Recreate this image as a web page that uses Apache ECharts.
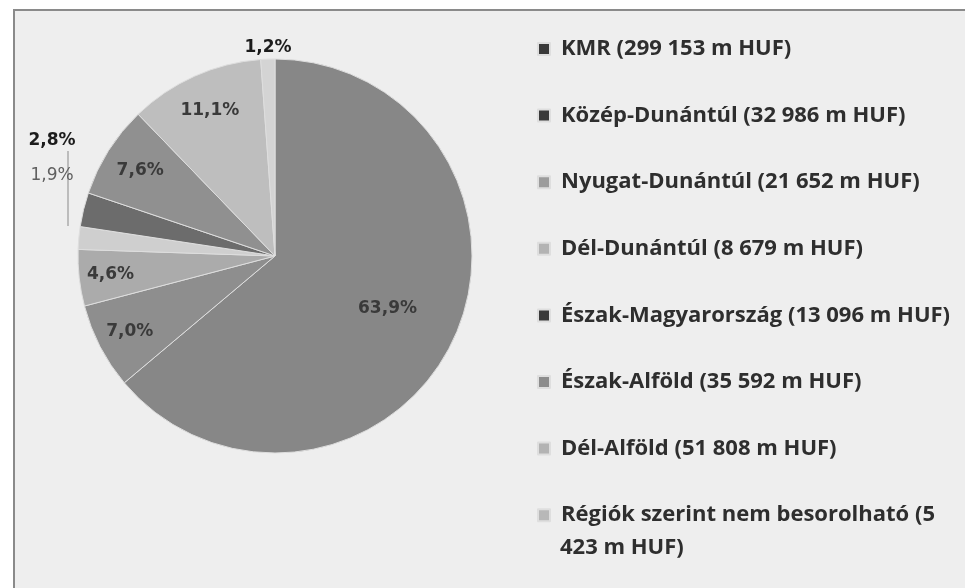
<!DOCTYPE html>
<html>
<head>
<meta charset="utf-8">
<script src="https://cdn.jsdelivr.net/npm/echarts@6/dist/echarts.min.js"></script>
<style>
	html, body { margin : 0; padding : 0; background : #ffffff; }
	#chart { width : 965px; height : 588px; }
</style>
</head>
<body>
<div id="chart"></div>
<script>
// regions, clockwise from 12 o'clock
var regionNames = [ 'KMR', 'Közép-Dunántúl', 'Nyugat-Dunántúl', 'Dél-Dunántúl',
		'Észak-Magyarország', 'Észak-Alföld', 'Dél-Alföld', 'Régiók szerint nem besorolható' ];
// m HUF
var regionValues = [ 299153, 32986, 21652, 8679, 13096, 35592, 51808, 5423 ];

var sliceColors = [ '#878787', '#8e8e8e', '#ababab', '#cfcfcf', '#6c6c6c', '#909090', '#bebebe', '#d4d4d4' ];
var legendColors = [ '#3a3a3a', '#3a3a3a', '#9c9c9c', '#b3b3b3', '#3a3a3a', '#8c8c8c', '#b3b3b3', '#b8b8b8' ];
// where the inside labels sit, as a share of the radius (0 = outside label)
var labelRadius = [ 0.63, 0.83, 0.84, 0, 0, 0.81, 0.81, 0 ];
// outside labels
var outsidePos = {
	3 : [ 52, 176 ],
	4 : [ 52, 141 ],
	7 : [ 268, 48 ]
};

var pieCenter = [ 275, 256 ];
var pieRadius = 197;

var total = regionValues.reduce(function(a, b) {
	return a + b;
}, 0);

function huf(v) {
	return String(v).replace(/\B(?=(\d{3})+(?!\d))/g, ' ');
}
function pct(v) {
	return (v / total * 100).toFixed(1).replace('.', ',') + '%';
}

var pieData = [];
var legendData = [];
regionNames.forEach(function(name, i) {
	var item = {
		name : name,
		value : regionValues[i],
		itemStyle : {
			color : sliceColors[i]
		}
	};
	if (!labelRadius[i]) {
		item.label = {
			position : 'outside',
			color : i === 3 ? '#606060' : '#1c1c1c',
			fontWeight : i === 3 ? 'normal' : 'bold'
		};
	}
	pieData.push(item);
	legendData.push({
		name : name,
		itemStyle : {
			color : legendColors[i]
		}
	});
});

var option = {
	backgroundColor : '#ffffff',
	animation : false,
	graphic : [ {
		type : 'rect',
		z : -10,
		shape : {
			x : 14,
			y : 10,
			width : 970,
			height : 600
		},
		style : {
			fill : '#eeeeee',
			stroke : '#8a8a8a',
			lineWidth : 2
		}
	}, {
		type : 'line',
		shape : {
			x1 : 68,
			y1 : 151,
			x2 : 68,
			y2 : 226
		},
		style : {
			stroke : '#8a8a8a',
			lineWidth : 1
		}
	}, {
		type : 'text',
		left : 560,
		top : 537,
		style : {
			text : '423 m HUF)',
			fill : '#2e2e2e',
			font : 'bold 22px "Open Sans"'
		}
	} ],
	legend : {
		orient : 'vertical',
		left : 537,
		top : 37,
		padding : 0,
		itemWidth : 12,
		itemHeight : 12,
		itemGap : 42.6,
		icon : 'rect',
		selectedMode : false,
		data : legendData,
		textStyle : {
			fontFamily : 'Open Sans',
			fontWeight : 'bold',
			fontSize : 22,
			lineHeight : 24,
			color : '#2e2e2e',
			padding : [ 0, 0, 0, 6 ]
		},
		formatter : function(name) {
			var v = regionValues[regionNames.indexOf(name)];
			if (name === 'Régiók szerint nem besorolható') {
				return name + ' (5';
			}
			return name + ' (' + huf(v) + ' m HUF)';
		}
	},
	series : [ {
		name : 'Régiók',
		type : 'pie',
		center : pieCenter,
		radius : pieRadius,
		startAngle : 90,
		clockwise : true,
		avoidLabelOverlap : false,
		itemStyle : {
			borderColor : '#dedede',
			borderWidth : 1
		},
		label : {
			show : true,
			position : 'inside',
			overflow : 'none',
			fontFamily : 'DejaVu Sans',
			fontWeight : 'bold',
			fontSize : 17,
			color : '#3a3a3a',
			formatter : function(p) {
				return pct(p.value);
			}
		},
		labelLine : {
			show : false
		},
		labelLayout : function(params) {
			var i = params.dataIndex;
			if (outsidePos[i]) {
				return {
					x : outsidePos[i][0],
					y : outsidePos[i][1],
					align : 'center',
					verticalAlign : 'middle'
				};
			}
			var before = 0;
			for (var k = 0; k < i; k++) {
				before += regionValues[k];
			}
			var a = (before + regionValues[i] / 2) / total * Math.PI * 2;
			var r = labelRadius[i] * pieRadius;
			return {
				x : pieCenter[0] + r * Math.sin(a),
				y : pieCenter[1] - r * Math.cos(a),
				align : 'center',
				verticalAlign : 'middle'
			};
		},
		data : pieData
	} ]
};

var chart = echarts.init(document.getElementById('chart'));
chart.setOption(option, true);
</script>
</body>
</html>
